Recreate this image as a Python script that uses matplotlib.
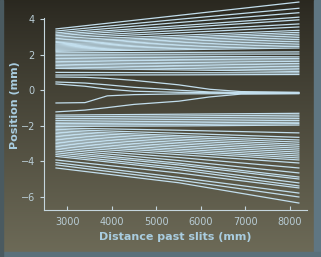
import numpy as np
import matplotlib.pyplot as plt
from matplotlib.patches import Rectangle

# positions along the beam (mm) where each trajectory is read
x_fan = [2750, 5500, 8200]
x_mid = [2750, 3400, 3900, 4500, 5500, 6200, 6900, 8200]

# upper fan: position at x_fan
upper = [
    [3.44, 4.20, 4.95], [3.32, 3.98, 4.60], [3.22, 3.80, 4.35], [3.14, 3.62, 4.10],
    [3.06, 3.50, 3.95], [2.98, 3.35, 3.72], [2.90, 3.22, 3.55], [2.82, 3.08, 3.36],
    [2.74, 2.98, 3.25], [2.67, 2.90, 3.15], [2.60, 2.82, 3.05], [2.54, 2.74, 2.95],
    [2.48, 2.66, 2.85], [2.42, 2.58, 2.75], [2.36, 2.50, 2.65], [2.30, 2.42, 2.55],
    [2.24, 2.34, 2.46], [2.18, 2.27, 2.37], [2.10, 2.12, 2.15], [2.02, 2.02, 2.03],
    [1.94, 1.91, 1.87], [1.86, 1.82, 1.78], [1.78, 1.73, 1.69], [1.70, 1.65, 1.60],
    [1.62, 1.56, 1.50], [1.54, 1.48, 1.41], [1.46, 1.39, 1.32], [1.38, 1.31, 1.23],
    [1.30, 1.22, 1.14], [1.22, 1.14, 1.05], [1.00, 0.98, 0.97], [0.85, 0.86, 0.88],
]

# lower fan
lower = [
    [-1.40, -1.35, -1.30], [-1.50, -1.45, -1.40], [-1.60, -1.55, -1.50], [-1.70, -1.65, -1.60],
    [-1.80, -1.75, -1.70], [-1.88, -1.84, -1.80], [-1.96, -1.93, -1.88], [-2.04, -2.01, -1.96],
    [-2.12, -2.25, -2.40], [-2.20, -2.42, -2.65], [-2.28, -2.55, -2.80], [-2.36, -2.64, -2.92],
    [-2.44, -2.74, -3.04], [-2.52, -2.83, -3.15], [-2.60, -2.93, -3.26], [-2.68, -3.02, -3.37],
    [-2.76, -3.12, -3.48], [-2.84, -3.21, -3.59], [-2.92, -3.31, -3.70], [-3.00, -3.40, -3.81],
    [-3.08, -3.50, -3.92], [-3.16, -3.62, -4.09], [-3.24, -3.78, -4.37], [-3.32, -3.95, -4.65],
    [-3.42, -4.10, -4.88], [-3.52, -4.20, -4.99], [-3.62, -4.35, -5.21], [-3.72, -4.46, -5.38],
    [-3.92, -4.65, -5.49], [-4.07, -4.90, -5.78], [-4.20, -5.05, -6.00], [-4.37, -5.20, -6.34],
]

# trajectories near the centre line, read at x_mid
central = [
    [0.74, 0.72, 0.66, 0.55, 0.30, 0.05, -0.08, -0.12],
    [0.46, 0.40, 0.30, 0.16, 0.00, -0.10, -0.13, -0.14],
    [0.35, 0.22, 0.06, -0.06, -0.12, -0.14, -0.15, -0.16],
    [-0.72, -0.70, -0.32, -0.25, -0.21, -0.20, -0.19, -0.18],
    [-1.22, -1.12, -0.98, -0.80, -0.62, -0.38, -0.22, -0.20],
]

fig = plt.figure(figsize=(3.21, 2.57), dpi=100)

# background gradient
bg = fig.add_axes([0, 0, 1, 1], zorder=-10)
grad = np.linspace(0, 1, 256)[:, None]
top = np.array([0.165, 0.157, 0.125])
bot = np.array([0.43, 0.42, 0.345])
img = top + (bot - top) * grad[:, :, None] ** 0.9
bg.imshow(img, aspect='auto', extent=[0, 1, 0, 1], origin='upper')
bg.add_patch(Rectangle((0.978, 0), 0.03, 1, color='#5f7682'))
bg.add_patch(Rectangle((0, 0), 1, 0.02, color='#5a707a'))
bg.add_patch(Rectangle((0, 0), 0.008, 1, color='#4a5a60'))
bg.set_xlim(0, 1)
bg.set_ylim(0, 1)
bg.axis('off')

ax = fig.add_axes([0.137, 0.183, 0.819, 0.8125])
ax.patch.set_alpha(0)

lc = '#c2deed'
for ys in upper + lower:
    ax.plot(x_fan, ys, color=lc, lw=0.9)
for ys in central:
    ax.plot(x_mid, ys, color=lc, lw=0.9)

ax.set_xlim(2480, 8380)
ax.set_ylim(-6.73, 5.0)
ax.set_xticks([3000, 4000, 5000, 6000, 7000, 8000])
ax.set_yticks([-6, -4, -2, 0, 2, 4])

sc = '#c5d6de'
for s in ['top', 'right']:
    ax.spines[s].set_visible(False)
for s in ['left', 'bottom']:
    ax.spines[s].set_color(sc)
    ax.spines[s].set_linewidth(0.8)
ax.spines['left'].set_bounds(-6.73, 4.08)
ax.tick_params(axis='x', direction='in', length=3, color=sc, labelcolor='#b9cdd6', labelsize=7, pad=5)
ax.tick_params(axis='y', direction='out', length=3, color=sc, labelcolor='#b9cdd6', labelsize=7)

ax.set_xlabel('Distance past slits (mm)', color='#a9cde0', fontsize=8, fontweight='bold', labelpad=4)
ax.set_ylabel('Position (mm)', color='#a9cde0', fontsize=8, fontweight='bold', labelpad=0.5)

fig.savefig('out.png', dpi=100)
